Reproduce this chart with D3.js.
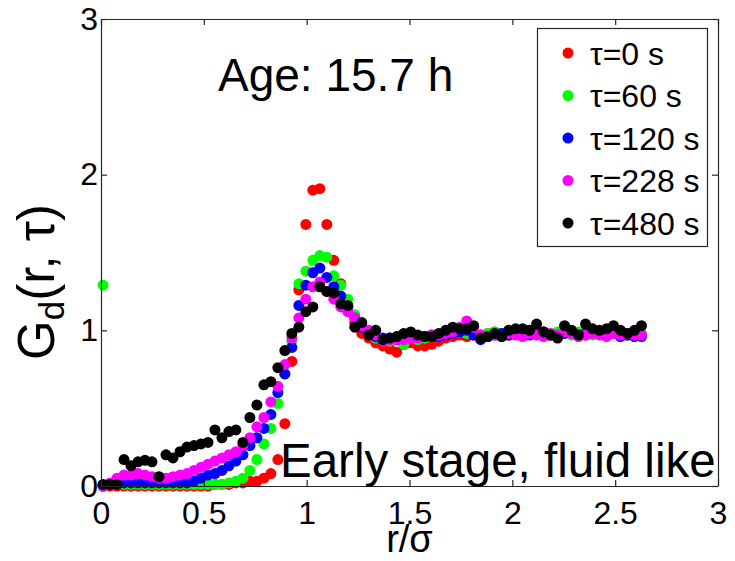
<!DOCTYPE html>
<html>
<head>
<meta charset="utf-8">
<script src="https://cdn.jsdelivr.net/npm/d3@7"></script>
<style>
  html, body { margin: 0; padding: 0; background: #fff; }
  svg { display: block; font-family: "Liberation Sans", Arial, sans-serif; }
</style>
</head>
<body>
<svg id="chart" width="735" height="561"></svg>
<script>
// ---- data ----
const rValues = [0.010, 0.044, 0.078, 0.112, 0.146, 0.180, 0.214, 0.248, 0.282, 0.316,
  0.350, 0.384, 0.418, 0.452, 0.486, 0.520, 0.554, 0.588, 0.622, 0.656,
  0.690, 0.724, 0.758, 0.792, 0.826, 0.860, 0.894, 0.928, 0.962, 0.996,
  1.030, 1.064, 1.098, 1.132, 1.166, 1.200, 1.234, 1.268, 1.302, 1.336,
  1.370, 1.404, 1.438, 1.472, 1.506, 1.540, 1.574, 1.608, 1.642, 1.676,
  1.710, 1.744, 1.778, 1.812, 1.846, 1.880, 1.914, 1.948, 1.982, 2.016,
  2.050, 2.084, 2.118, 2.152, 2.186, 2.220, 2.254, 2.288, 2.322, 2.356,
  2.390, 2.424, 2.458, 2.492, 2.526, 2.560, 2.594, 2.628];

const tau0 = [0.00, 0.00, 0.00, 0.00, 0.00, 0.00, 0.00, 0.00, 0.00, 0.00,
  0.00, 0.00, 0.00, 0.00, 0.00, 0.00, 0.01, 0.01, 0.01, 0.02,
  0.02, 0.03, 0.03, 0.05, 0.08, 0.17, 0.40, 0.80, 1.26, 1.68,
  1.90, 1.91, 1.68, 1.45, 1.30, 1.15, 1.05, 0.98, 0.95, 0.92,
  0.90, 0.88, 0.86, 0.91, 0.92, 0.90, 0.90, 0.91, 0.93, 0.95,
  0.96, 0.97, 0.96, 0.97, 0.97, 0.98, 0.99, 0.98, 0.97, 0.98,
  0.99, 1.00, 0.98, 0.99, 0.97, 0.98, 1.00, 0.99, 0.98, 0.97,
  0.99, 0.98, 0.99, 1.00, 0.98, 0.97, 0.98, 0.97];

const tau60 = [1.29, 0.01, 0.01, 0.01, 0.01, 0.01, 0.01, 0.01, 0.01, 0.01,
  0.01, 0.01, 0.01, 0.01, 0.01, 0.01, 0.01, 0.01, 0.02, 0.03,
  0.05, 0.10, 0.17, 0.27, 0.37, 0.53, 0.72, 0.93, 1.30, 1.38,
  1.45, 1.48, 1.47, 1.35, 1.29, 1.20, 1.10, 1.03, 0.99, 0.95,
  0.94, 0.93, 0.94, 0.91, 0.95, 0.94, 0.95, 0.96, 0.97, 0.98,
  0.99, 0.99, 0.98, 0.98, 0.97, 0.98, 0.99, 0.98, 0.97, 0.99,
  0.98, 0.99, 0.98, 0.97, 0.98, 0.99, 0.98, 0.97, 0.99, 0.98,
  0.97, 0.98, 0.99, 0.98, 0.97, 0.98, 0.97, 0.98];

const tau120 = [0.00, 0.01, 0.02, 0.02, 0.02, 0.02, 0.02, 0.02, 0.02, 0.02,
  0.02, 0.02, 0.02, 0.03, 0.05, 0.07, 0.08, 0.10, 0.13, 0.16,
  0.20, 0.26, 0.31, 0.37, 0.46, 0.60, 0.72, 0.89, 1.16, 1.29,
  1.37, 1.40, 1.34, 1.28, 1.22, 1.15, 1.08, 1.02, 0.98, 0.96,
  0.95, 0.95, 0.94, 0.95, 0.95, 0.96, 0.96, 0.97, 0.96, 0.97,
  0.98, 0.99, 1.00, 0.97, 0.94, 0.96, 0.97, 0.98, 0.97, 0.99,
  0.98, 0.97, 0.98, 0.99, 0.97, 0.96, 0.98, 0.99, 0.97, 0.98,
  0.99, 0.98, 0.97, 0.98, 0.96, 0.97, 0.96, 0.96];

const tau228 = [0.00, 0.02, 0.05, 0.07, 0.07, 0.08, 0.07, 0.06, 0.05, 0.05,
  0.06, 0.07, 0.08, 0.10, 0.12, 0.14, 0.16, 0.18, 0.20, 0.22,
  0.26, 0.31, 0.38, 0.44, 0.54, 0.64, 0.78, 0.95, 1.08, 1.20,
  1.28, 1.31, 1.25, 1.20, 1.15, 1.12, 1.08, 1.03, 1.00, 0.97,
  0.93, 0.94, 0.94, 0.94, 0.95, 0.95, 0.96, 0.97, 0.97, 0.98,
  0.99, 1.02, 1.06, 1.02, 0.97, 0.96, 0.97, 0.96, 0.98, 0.97,
  0.96, 0.98, 0.97, 0.96, 0.98, 0.97, 0.99, 0.98, 0.96, 0.97,
  0.98, 0.97, 0.96, 0.98, 0.97, 0.98, 0.97, 0.97];

const tau480 = [0.01, 0.01, 0.01, 0.17, 0.13, 0.155, 0.165, 0.155, 0.06, 0.20,
  0.18, 0.22, 0.25, 0.26, 0.27, 0.28, 0.36, 0.31, 0.35, 0.36,
  0.28, 0.44, 0.52, 0.65, 0.67, 0.76, 0.87, 0.98, 1.02, 1.12,
  1.15, 1.28, 1.25, 1.24, 1.17, 1.16, 1.02, 1.05, 0.97, 1.00,
  0.94, 0.95, 0.96, 0.98, 0.99, 0.97, 0.96, 0.96, 0.98, 1.00,
  1.02, 1.01, 1.01, 1.03, 0.95, 0.96, 0.98, 0.96, 1.00, 1.01,
  1.01, 1.00, 1.04, 0.99, 0.97, 0.95, 1.03, 1.00, 0.97, 1.04,
  1.01, 1.00, 1.01, 1.03, 1.00, 0.98, 1.00, 1.03];

const seriesNames = ["\u03c4=0 s", "\u03c4=60 s", "\u03c4=120 s", "\u03c4=228 s", "\u03c4=480 s"];
const seriesValues = [tau0, tau60, tau120, tau228, tau480];
const seriesColors = ["#ff0000", "#00ff00", "#0000ff", "#ff00ff", "#000000"];

const xTicks = [0, 0.5, 1, 1.5, 2, 2.5, 3];
const xTickLabels = ["0", "0.5", "1", "1.5", "2", "2.5", "3"];
const yTicks = [0, 1, 2, 3];
const yTickLabels = ["0", "1", "2", "3"];

// ---- drawing ----
const svg = d3.select("#chart");
const L = 101, R = 718, T = 19, B = 486;
const x = d3.scaleLinear().domain([0, 3]).range([L, R]);
const y = d3.scaleLinear().domain([0, 3]).range([B, T]);
const axisColor = "#262626";

const plot = svg.append("g");
seriesValues.forEach((vals, si) => {
  plot.append("g").selectAll("circle")
    .data(vals.map((v, i) => ({ r: rValues[i], g: v })))
    .join("circle")
    .attr("cx", d => x(d.r))
    .attr("cy", d => y(d.g))
    .attr("r", 5.5)
    .attr("fill", seriesColors[si]);
});

function styleAxis(g) {
  g.selectAll("path.domain").attr("stroke", axisColor).attr("stroke-width", 1.2);
  g.selectAll(".tick line").attr("stroke", axisColor).attr("stroke-width", 1.2);
  g.selectAll(".tick text").attr("fill", "#000").attr("font-size", 32)
    .attr("font-family", "Liberation Sans, Arial, sans-serif");
}

const xAxis = svg.append("g").attr("transform", `translate(0,${B})`)
  .call(d3.axisBottom(x).tickValues(xTicks).tickFormat((d, i) => xTickLabels[i])
    .tickSizeInner(-6).tickSizeOuter(0).tickPadding(15));
styleAxis(xAxis);

const yAxis = svg.append("g").attr("transform", `translate(${L},0)`)
  .call(d3.axisLeft(y).tickValues(yTicks).tickFormat((d, i) => yTickLabels[i])
    .tickSizeInner(-6).tickSizeOuter(0).tickPadding(3));
styleAxis(yAxis);

const xTop = svg.append("g").attr("transform", `translate(0,${T})`)
  .call(d3.axisTop(x).tickValues(xTicks).tickFormat("").tickSizeInner(-6).tickSizeOuter(0));
styleAxis(xTop);

const yRight = svg.append("g").attr("transform", `translate(${R},0)`)
  .call(d3.axisRight(y).tickValues(yTicks).tickFormat("").tickSizeInner(-6).tickSizeOuter(0));
styleAxis(yRight);

// axis titles
svg.append("text")
  .attr("x", x(1.5)).attr("y", 552)
  .attr("text-anchor", "middle")
  .attr("font-size", 38)
  .text("r/\u03c3");

const yTitle = svg.append("text")
  .attr("transform", `translate(54,${282}) rotate(-90)`)
  .attr("text-anchor", "middle")
  .attr("font-size", 51);
yTitle.append("tspan").text("G");
yTitle.append("tspan").attr("font-size", 35).attr("dy", 10).text("d");
yTitle.append("tspan").attr("dy", -10).text("(r, \u03c4)");

// annotations
svg.append("text").attr("x", 218).attr("y", 91)
  .attr("font-size", 46).text("Age: 15.7 h");
svg.append("text").attr("x", 280).attr("y", 477)
  .attr("font-size", 47.5).text("Early stage, fluid like");

// legend
const legend = svg.append("g");
legend.append("rect")
  .attr("x", 537.5).attr("y", 28.5).attr("width", 170).attr("height", 218)
  .attr("fill", "#fff").attr("stroke", axisColor).attr("stroke-width", 1.2);
const rowY = d3.scaleLinear().domain([0, 4]).range([53, 223]);
seriesNames.forEach((name, i) => {
  legend.append("circle").attr("cx", 568).attr("cy", rowY(i)).attr("r", 5.5)
    .attr("fill", seriesColors[i]);
  legend.append("text").attr("x", 590).attr("y", rowY(i) + 11.5)
    .attr("font-size", 32).text(name);
});
</script>
</body>
</html>
